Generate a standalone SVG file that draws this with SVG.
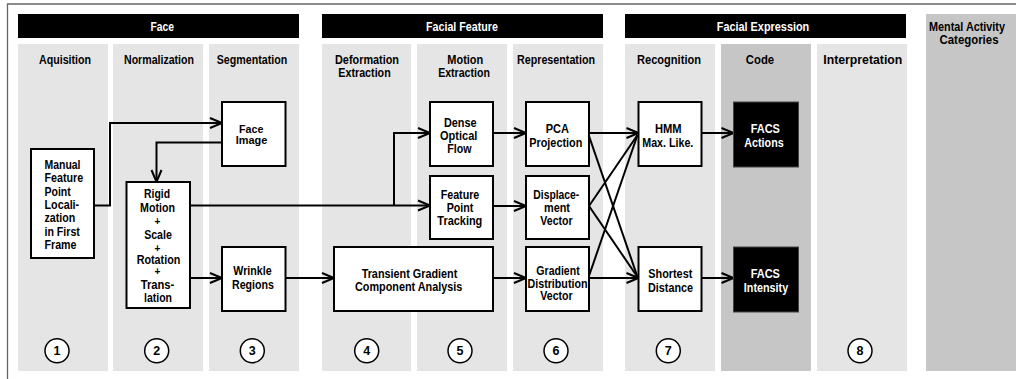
<svg xmlns="http://www.w3.org/2000/svg" width="1016" height="379" viewBox="0 0 1016 379">
<defs>
<marker id="ah" markerUnits="userSpaceOnUse" markerWidth="14" markerHeight="12" refX="12" refY="5" orient="auto" overflow="visible">
<path d="M0,0 L12,5 L0,10" fill="none" stroke="#000" stroke-width="2"/>
</marker>
</defs>
<style>
text{font-family:"Liberation Sans",Arial,sans-serif;font-weight:bold;font-size:12px;text-anchor:middle;fill:#000}
.hdr{fill:#fff;font-size:12.5px}
.ttl{font-size:12px}
.sm{font-size:11px}
.col{fill:#e5e5e5}
.dk{fill:#c6c6c6}
.bar{fill:#000}
.box{fill:#fff;stroke:#000;stroke-width:2}
.bbox{fill:#000;stroke:#444;stroke-width:1}
.wt{fill:#fff}
.pl{font-size:10px;fill:#000}
.lt{text-anchor:start}
.cn{fill:#fff;stroke:#000;stroke-width:1.5}
.num{font-size:12.5px}
#connectors path{fill:none;stroke:#000;stroke-width:2}
</style>
<path d="M7.5,379 V4 H1016" fill="none" stroke="#666" stroke-width="1.3"/>
<g id="columns">
<rect class="col" x="18" y="44" width="90" height="327"/>
<rect class="col" x="113" y="44" width="90" height="327"/>
<rect class="col" x="209" y="44" width="90" height="327"/>
<rect class="col" x="322" y="44" width="89" height="327"/>
<rect class="col" x="417" y="44" width="90" height="327"/>
<rect class="col" x="513" y="44" width="90" height="327"/>
<rect class="col" x="625" y="44" width="90" height="327"/>
<rect class="dk" x="721" y="44" width="90" height="327"/>
<rect class="col" x="817" y="44" width="90" height="327"/>
<rect class="dk" x="926" y="14" width="90" height="357"/>
</g>
<g id="headers">
<rect class="bar" x="18" y="14" width="281" height="24"/>
<text class="hdr" x="162.3" y="31" textLength="23.5" lengthAdjust="spacingAndGlyphs">Face</text>
<rect class="bar" x="322" y="14" width="281" height="24"/>
<text class="hdr" x="462" y="31" textLength="72" lengthAdjust="spacingAndGlyphs">Facial Feature</text>
<rect class="bar" x="625" y="14" width="281" height="24"/>
<text class="hdr" x="763" y="31" textLength="92.5" lengthAdjust="spacingAndGlyphs">Facial Expression</text>
</g>
<g id="column-titles">
<text class="ttl" x="65" y="64" textLength="52" lengthAdjust="spacingAndGlyphs">Aquisition</text>
<text class="ttl" x="159" y="64" textLength="70" lengthAdjust="spacingAndGlyphs">Normalization</text>
<text class="ttl" x="252" y="64" textLength="70.5" lengthAdjust="spacingAndGlyphs">Segmentation</text>
<text class="ttl" x="367" y="64" textLength="64" lengthAdjust="spacingAndGlyphs">Deformation</text>
<text class="ttl" x="364.5" y="76.5" textLength="52.4" lengthAdjust="spacingAndGlyphs">Extraction</text>
<text class="ttl" x="465.3" y="64" textLength="36" lengthAdjust="spacingAndGlyphs">Motion</text>
<text class="ttl" x="464" y="76.5" textLength="51.7" lengthAdjust="spacingAndGlyphs">Extraction</text>
<text class="ttl" x="556" y="64" textLength="78" lengthAdjust="spacingAndGlyphs">Representation</text>
<text class="ttl" x="669" y="64" textLength="64" lengthAdjust="spacingAndGlyphs">Recognition</text>
<text class="ttl" x="760" y="64" textLength="28.3" lengthAdjust="spacingAndGlyphs">Code</text>
<text class="ttl" x="862.8" y="64" textLength="79" lengthAdjust="spacingAndGlyphs">Interpretation</text>
<text class="ttl" x="967" y="31" textLength="76" lengthAdjust="spacingAndGlyphs">Mental Activity</text>
<text class="ttl" x="969" y="44" textLength="59" lengthAdjust="spacingAndGlyphs">Categories</text>
</g>
<g id="connectors">
<path d="M94,205.5 H110 V123 H222" marker-end="url(#ah)"/>
<path d="M222,142.5 H156.5 V182" marker-end="url(#ah)"/>
<path d="M190,205.5 H430" marker-end="url(#ah)"/>
<path d="M394,205.5 V133 H430" marker-end="url(#ah)"/>
<path d="M190,278 H222" marker-end="url(#ah)"/>
<path d="M285.5,278 H334" marker-end="url(#ah)"/>
<path d="M493,133 H526" marker-end="url(#ah)"/>
<path d="M493,206 H526" marker-end="url(#ah)"/>
<path d="M493,278 H526" marker-end="url(#ah)"/>
<path d="M589,133 H638.5" marker-end="url(#ah)"/>
<path d="M589,278 H638.5" marker-end="url(#ah)"/>
<path d="M589,136 L637.5,277"/>
<path d="M589,206 L637.5,135"/>
<path d="M589,206 L637.5,277"/>
<path d="M589,276 L637.5,135"/>
<path d="M701.5,133 H733.5" marker-end="url(#ah)"/>
<path d="M701.5,278 H733.5" marker-end="url(#ah)"/>
</g>
<g id="n-manual">
<rect class="box" x="31" y="149" width="63" height="109"/>
<text class="lt" x="44.5" y="169" textLength="36" lengthAdjust="spacingAndGlyphs">Manual</text>
<text class="lt" x="44.5" y="182.3" textLength="38.7" lengthAdjust="spacingAndGlyphs">Feature</text>
<text class="lt" x="44.5" y="195.6" textLength="26.3" lengthAdjust="spacingAndGlyphs">Point</text>
<text class="lt" x="44.5" y="208.9" textLength="34.7" lengthAdjust="spacingAndGlyphs">Locali-</text>
<text class="lt" x="44.5" y="222.2" textLength="30.7" lengthAdjust="spacingAndGlyphs">zation</text>
<text class="lt" x="44.5" y="235.5" textLength="35.3" lengthAdjust="spacingAndGlyphs">in First</text>
<text class="lt" x="44.5" y="248.8" textLength="32" lengthAdjust="spacingAndGlyphs">Frame</text>
</g>
<g id="n-rigid">
<rect class="box" x="126.5" y="182" width="63.5" height="126"/>
<text x="157" y="198" textLength="26" lengthAdjust="spacingAndGlyphs">Rigid</text>
<text x="157.5" y="211.5" textLength="35" lengthAdjust="spacingAndGlyphs">Motion</text>
<text class="pl" x="157.5" y="225">+</text>
<text x="158" y="238.5" textLength="27.7" lengthAdjust="spacingAndGlyphs">Scale</text>
<text class="pl" x="157.5" y="251.5">+</text>
<text x="158.5" y="264" textLength="43.7" lengthAdjust="spacingAndGlyphs">Rotation</text>
<text class="pl" x="157.5" y="274.5">+</text>
<text x="157.5" y="288.5" textLength="33.7" lengthAdjust="spacingAndGlyphs">Trans-</text>
<text x="158" y="302" textLength="28" lengthAdjust="spacingAndGlyphs">lation</text>
</g>
<g id="n-faceimage">
<rect class="box" x="222" y="102" width="63.5" height="64"/>
<text class="sm" x="251.2" y="132.5" textLength="24.3" lengthAdjust="spacingAndGlyphs">Face</text>
<text class="sm" x="251.5" y="143.5" textLength="31.6" lengthAdjust="spacingAndGlyphs">Image</text>
</g>
<g id="n-wrinkle">
<rect class="box" x="222" y="247" width="63.5" height="64"/>
<text x="252.5" y="275" textLength="38.3" lengthAdjust="spacingAndGlyphs">Wrinkle</text>
<text x="253" y="288.5" textLength="42" lengthAdjust="spacingAndGlyphs">Regions</text>
</g>
<g id="n-transient">
<rect class="box" x="334" y="247" width="159" height="64"/>
<text x="409.5" y="277.5" textLength="95.7" lengthAdjust="spacingAndGlyphs">Transient Gradient</text>
<text x="408.7" y="291" textLength="107.3" lengthAdjust="spacingAndGlyphs">Component Analysis</text>
</g>
<g id="n-dense">
<rect class="box" x="430" y="102" width="63" height="64"/>
<text x="460.3" y="127" textLength="32.7" lengthAdjust="spacingAndGlyphs">Dense</text>
<text x="458.7" y="140" textLength="37.3" lengthAdjust="spacingAndGlyphs">Optical</text>
<text x="459.5" y="153" textLength="24.3" lengthAdjust="spacingAndGlyphs">Flow</text>
</g>
<g id="n-fpt">
<rect class="box" x="430" y="176" width="63" height="63"/>
<text x="460" y="198.5" textLength="38.7" lengthAdjust="spacingAndGlyphs">Feature</text>
<text x="460" y="211.5" textLength="26.7" lengthAdjust="spacingAndGlyphs">Point</text>
<text x="459.8" y="225" textLength="45" lengthAdjust="spacingAndGlyphs">Tracking</text>
</g>
<g id="n-pca">
<rect class="box" x="526" y="102" width="63" height="64"/>
<text x="557.3" y="133" textLength="23.3" lengthAdjust="spacingAndGlyphs">PCA</text>
<text x="555.8" y="146.5" textLength="53" lengthAdjust="spacingAndGlyphs">Projection</text>
</g>
<g id="n-disp">
<rect class="box" x="526" y="176" width="63" height="63"/>
<text x="556.3" y="199" textLength="46" lengthAdjust="spacingAndGlyphs">Displace-</text>
<text x="557" y="212" textLength="26" lengthAdjust="spacingAndGlyphs">ment</text>
<text x="556.5" y="225" textLength="32.3" lengthAdjust="spacingAndGlyphs">Vector</text>
</g>
<g id="n-grad">
<rect class="box" x="526" y="247" width="63" height="64"/>
<text x="558" y="275" textLength="43.3" lengthAdjust="spacingAndGlyphs">Gradient</text>
<text x="557.5" y="287.5" textLength="60" lengthAdjust="spacingAndGlyphs">Distribution</text>
<text x="556.5" y="300" textLength="32.3" lengthAdjust="spacingAndGlyphs">Vector</text>
</g>
<g id="n-hmm">
<rect class="box" x="638.5" y="102" width="63" height="64"/>
<text x="668.3" y="133" textLength="26.7" lengthAdjust="spacingAndGlyphs">HMM</text>
<text x="667.8" y="146.5" textLength="51" lengthAdjust="spacingAndGlyphs">Max. Like.</text>
</g>
<g id="n-shortest">
<rect class="box" x="638.5" y="247" width="63" height="64"/>
<text x="670.3" y="277.5" textLength="44" lengthAdjust="spacingAndGlyphs">Shortest</text>
<text x="670.5" y="291.5" textLength="45" lengthAdjust="spacingAndGlyphs">Distance</text>
</g>
<g id="n-facs-actions">
<rect class="bbox" x="733.5" y="102" width="65" height="65"/>
<text class="wt" x="765.3" y="132.5" textLength="29.3" lengthAdjust="spacingAndGlyphs">FACS</text>
<text class="wt" x="764" y="147" textLength="39.3" lengthAdjust="spacingAndGlyphs">Actions</text>
</g>
<g id="n-facs-intensity">
<rect class="bbox" x="733.5" y="247" width="65" height="65"/>
<text class="wt" x="765.3" y="277.5" textLength="29.3" lengthAdjust="spacingAndGlyphs">FACS</text>
<text class="wt" x="766" y="291.5" textLength="44.3" lengthAdjust="spacingAndGlyphs">Intensity</text>
</g>
<g id="step-numbers">
<circle class="cn" cx="57" cy="350.7" r="12"/><text class="num" x="57" y="355">1</text>
<circle class="cn" cx="156.7" cy="350.7" r="12"/><text class="num" x="156.7" y="355">2</text>
<circle class="cn" cx="252.3" cy="350.7" r="12"/><text class="num" x="252.3" y="355">3</text>
<circle class="cn" cx="366.7" cy="350.7" r="12"/><text class="num" x="366.7" y="355">4</text>
<circle class="cn" cx="460" cy="350.7" r="12"/><text class="num" x="460" y="355">5</text>
<circle class="cn" cx="556" cy="350.7" r="12"/><text class="num" x="556" y="355">6</text>
<circle class="cn" cx="668.3" cy="350.7" r="12"/><text class="num" x="668.3" y="355">7</text>
<circle class="cn" cx="860" cy="350.7" r="12"/><text class="num" x="860" y="355">8</text>
</g>
</svg>
